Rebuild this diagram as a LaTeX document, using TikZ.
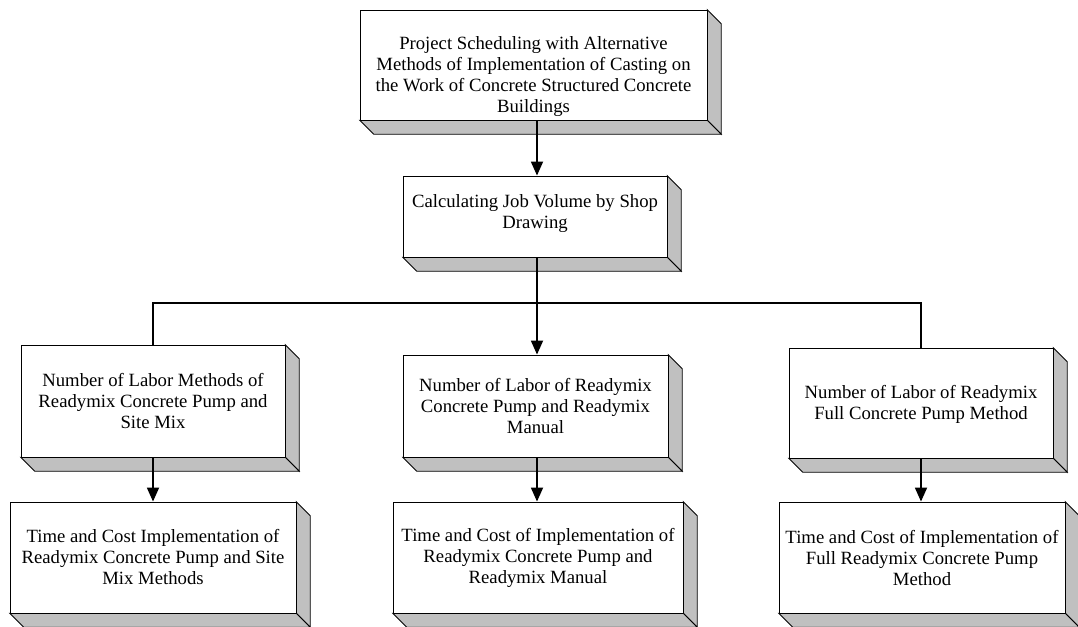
\documentclass[tikz,border=0pt]{standalone}
\usepackage{fontspec}
\setmainfont{Liberation Serif}
\usetikzlibrary{arrows.meta}

\definecolor{slabgrey}{HTML}{C0C0C0}
% front face of a slab box, its grey sides and its caption
\tikzset{
  slab/.style={draw=black, line width=0.9pt, fill=white, inner sep=0pt},
  caption/.style={align=center, inner sep=0pt, font=\fontsize{18.7}{21}\selectfont},
  side/.style={draw=black, line width=0.9pt, fill=slabgrey, line join=miter},
  link/.style={draw=black, line width=1.8pt},
  flow/.style={link, -{Triangle[length=14pt,width=12pt]}}
}

% \slabbox{name}{cx}{cy}{width}{height}{caption shift}{text}
\newcommand\slabbox[7]{%
  \path (#2,#3) node[minimum width=#4pt, minimum height=#5pt] (#1-g) {};
  \draw[side] (#1-g.north east) -- ++(14,14) -- ([shift={(14,14)}]#1-g.south east)
     -- (#1-g.south east) -- cycle;
  \draw[side] (#1-g.south west) -- ++(14,14) -- ([shift={(14,14)}]#1-g.south east)
     -- (#1-g.south east) -- cycle;
  \node[slab, minimum width=#4pt, minimum height=#5pt] (#1) at (#2,#3) {};
  \node[caption] (#1-t) at (#2,#3+#6) {#7};
}

\begin{document}
\begin{tikzpicture}[x=1pt, y=-1pt]
\useasboundingbox (0,0) rectangle (1078,626);

\slabbox{goal}{533.5}{65}{347}{110}{12}{Project Scheduling with Alternative\\Methods of Implementation of Casting on\\the Work of Concrete Structured Concrete\\Buildings}
\slabbox{volume}{535}{216.5}{264}{81}{-3}{Calculating Job Volume by Shop\\Drawing}

\slabbox{laborA}{153}{401}{264}{112}{0}{Number of Labor Methods of\\Readymix Concrete Pump and\\Site Mix}
\slabbox{laborB}{535.5}{406}{265}{102}{0}{Number of Labor of Readymix\\Concrete Pump and Readymix\\Manual}
\slabbox{laborC}{921}{403}{264}{110}{1}{Number of Labor of Readymix\\Full Concrete Pump Method}

\slabbox{costA}{153}{557.5}{286}{111}{0}{Time and Cost Implementation of\\Readymix Concrete Pump and Site\\Mix Methods}
\slabbox{costB}{538}{557.5}{290}{111}{0}{Time and Cost of Implementation of\\Readymix Concrete Pump and\\Readymix Manual}
\slabbox{costC}{922}{557.5}{286}{111}{1}{Time and Cost of Implementation of\\Full Readymix Concrete Pump\\Method}

% connectors
\coordinate (split) at (537,303);
\draw[flow] (goal.south -| split) -- (volume.north -| split);
\draw[flow] (volume.south -| split) -- (laborB.north -| split);
\draw[link] (laborA.north) |- (split) -| (laborC.north);

\draw[flow] (laborA.south) -- (costA.north);
\draw[flow] (laborB.south -| split) -- (costB.north -| split);
\draw[flow] (laborC.south) -- (laborC.south |- costC.north);
\end{tikzpicture}
\end{document}
